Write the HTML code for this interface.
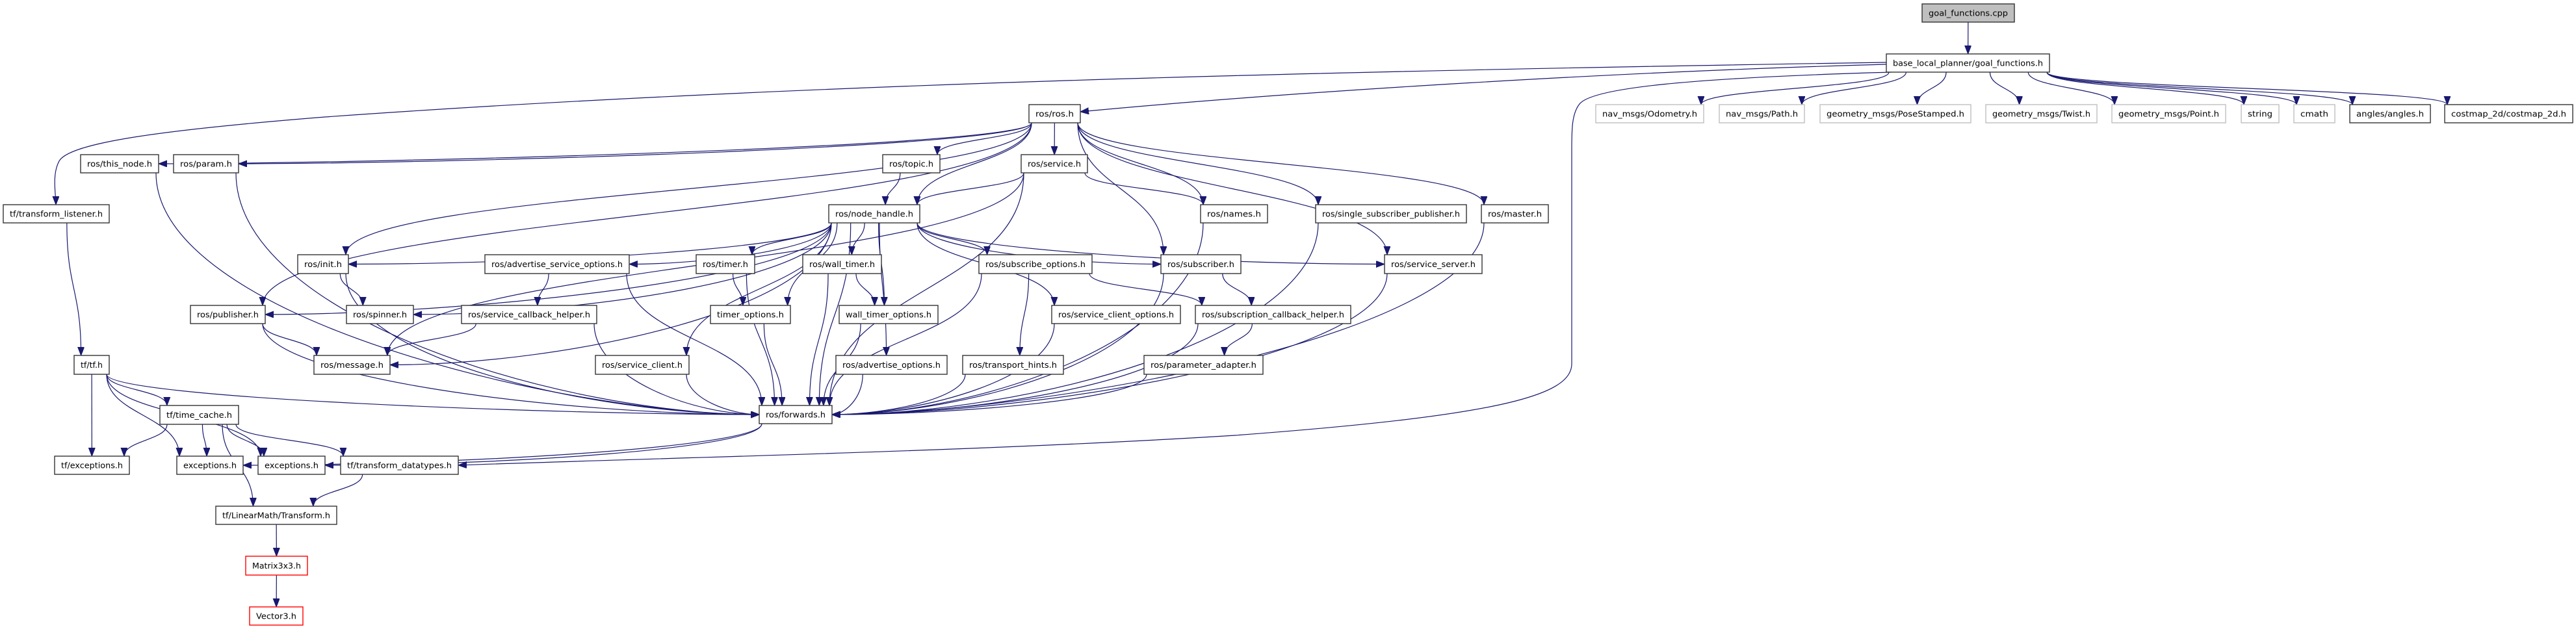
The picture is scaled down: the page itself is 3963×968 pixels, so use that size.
<!DOCTYPE html>
<html><head><meta charset="utf-8"><style>
html,body{margin:0;padding:0;background:#fff;}
svg{display:block;}
text{font-family:"DejaVu Sans","Liberation Sans",sans-serif;font-size:12.5px;fill:#000;}
</style></head><body>
<svg id="g" xmlns="http://www.w3.org/2000/svg" width="3963" height="968" viewBox="0 0 3963 968">
<defs><marker id="ah" markerUnits="userSpaceOnUse" markerWidth="14" markerHeight="11" refX="13" refY="5" orient="auto"><path d="M0,0 L13,5 L0,10 z" fill="#191970" stroke="#191970"/></marker></defs>
<g id="edges" fill="none" stroke="#191970" stroke-width="1.2"></g>
<g id="nodes"></g>
</svg>
<div id="src" style="display:none">
<span data-n="cpp,2957,3099,6,34,g">goal_functions.cpp</span>
<span data-n="blp,2902,3153,83,111,b">base_local_planner/goal_functions.h</span>
<span data-n="ros,1583,1662,161,189,b">ros/ros.h</span>
<span data-n="odom,2455,2621,161,189,l">nav_msgs/Odometry.h</span>
<span data-n="path,2645,2776,161,189,l">nav_msgs/Path.h</span>
<span data-n="pose,2800,3032,161,189,l">geometry_msgs/PoseStamped.h</span>
<span data-n="twist,3055,3226,161,189,l">geometry_msgs/Twist.h</span>
<span data-n="point,3249,3424,161,189,l">geometry_msgs/Point.h</span>
<span data-n="string,3448,3506,161,189,l">string</span>
<span data-n="cmath,3529,3592,161,189,l">cmath</span>
<span data-n="angles,3615,3739,161,189,b">angles/angles.h</span>
<span data-n="costmap,3761,3958,161,189,b">costmap_2d/costmap_2d.h</span>
<span data-n="thisnode,124,244,238,266,b">ros/this_node.h</span>
<span data-n="param,267,367,238,266,b">ros/param.h</span>
<span data-n="topic,1358,1446,238,266,b">ros/topic.h</span>
<span data-n="service,1571,1673,238,266,b">ros/service.h</span>
<span data-n="tl,5,168,315,343,b">tf/transform_listener.h</span>
<span data-n="nh,1275,1415,315,343,b">ros/node_handle.h</span>
<span data-n="names,1847,1950,315,343,b">ros/names.h</span>
<span data-n="ssp,2024,2256,315,343,b">ros/single_subscriber_publisher.h</span>
<span data-n="master,2279,2382,315,343,b">ros/master.h</span>
<span data-n="init,458,536,392,421,b">ros/init.h</span>
<span data-n="aso,746,968,392,421,b">ros/advertise_service_options.h</span>
<span data-n="timer,1071,1161,392,421,b">ros/timer.h</span>
<span data-n="wt,1235,1356,392,421,b">ros/wall_timer.h</span>
<span data-n="so,1506,1680,392,421,b">ros/subscribe_options.h</span>
<span data-n="sub,1786,1909,392,421,b">ros/subscriber.h</span>
<span data-n="ss,2130,2280,392,421,b">ros/service_server.h</span>
<span data-n="pub,293,408,470,498,b">ros/publisher.h</span>
<span data-n="spin,533,636,470,498,b">ros/spinner.h</span>
<span data-n="sch,710,918,470,498,b">ros/service_callback_helper.h</span>
<span data-n="to,1093,1216,470,498,b">timer_options.h</span>
<span data-n="wto,1291,1443,470,498,b">wall_timer_options.h</span>
<span data-n="sco,1618,1816,470,498,b">ros/service_client_options.h</span>
<span data-n="subch,1839,2078,470,498,b">ros/subscription_callback_helper.h</span>
<span data-n="tf,114,168,547,576,b">tf/tf.h</span>
<span data-n="msg,483,600,547,576,b">ros/message.h</span>
<span data-n="sc,916,1060,547,576,b">ros/service_client.h</span>
<span data-n="ao,1286,1457,547,576,b">ros/advertise_options.h</span>
<span data-n="th,1481,1636,547,576,b">ros/transport_hints.h</span>
<span data-n="pa,1760,1943,547,576,b">ros/parameter_adapter.h</span>
<span data-n="tc,246,367,624,653,b">tf/time_cache.h</span>
<span data-n="fwd,1168,1280,624,652,b">ros/forwards.h</span>
<span data-n="tfex,84,199,702,730,b">tf/exceptions.h</span>
<span data-n="ex1,272,374,702,730,b">exceptions.h</span>
<span data-n="ex2,397,500,702,730,b">exceptions.h</span>
<span data-n="td,524,705,702,730,b">tf/transform_datatypes.h</span>
<span data-n="lm,332,518,779,807,b">tf/LinearMath/Transform.h</span>
<span data-n="m33,378,473,856,885,r">Matrix3x3.h</span>
<span data-n="v3,384,466,934,962,r">Vector3.h</span>
</div>
<script>
var NS="http://www.w3.org/2000/svg",N={},ng=document.getElementById('nodes'),eg=document.getElementById('edges');
document.querySelectorAll('#src span').forEach(function(s){
 var p=s.getAttribute('data-n').split(','),id=p[0],x1=+p[1],x2=+p[2],y1=+p[3],y2=+p[4],t=p[5];
 N[id]={x1:x1,x2:x2,y1:y1,y2:y2,cx:(x1+x2)/2,cy:(y1+y2)/2,w:x2-x1};
 var r=document.createElementNS(NS,'rect');
 r.setAttribute('x',x1);r.setAttribute('y',y1);r.setAttribute('width',x2-x1);r.setAttribute('height',y2-y1);
 r.setAttribute('fill',t=='g'?'#bfbfbf':'#fff');
 r.setAttribute('stroke',t=='l'?'#bfbfbf':(t=='r'?'#ff0000':'#333'));
 r.setAttribute('stroke-width',1.4);ng.appendChild(r);
 var tx=document.createElementNS(NS,'text');
 tx.setAttribute('x',(x1+x2)/2);tx.setAttribute('y',(y1+y2)/2+4.5);tx.setAttribute('text-anchor','middle');
 tx.setAttribute('textLength',Math.max(10,x2-x1-20));tx.setAttribute('lengthAdjust','spacingAndGlyphs');
 tx.textContent=s.textContent;ng.appendChild(tx);
});
var E="cpp>blp blp>odom blp>path blp>pose blp>twist blp>point blp>string blp>cmath blp>angles blp>costmap "+
"ros>thisnode ros>param ros>topic ros>service ros>nh ros>names ros>sub ros>ssp ros>ss ros>master ros>pub ros>init "+
"topic>nh service>nh service>names service>msg service>fwd "+
"nh>fwd nh>pub nh>sub nh>ss nh>sc nh>timer nh>wt nh>ao nh>aso nh>so nh>sco nh>to nh>wto nh>spin nh>init nh>msg "+
"thisnode>fwd param>fwd names>fwd init>fwd init>spin pub>msg pub>fwd sch>msg sch>fwd aso>sch aso>fwd timer>to timer>fwd wt>wto wt>fwd "+
"to>fwd wto>fwd ao>fwd sc>fwd so>th so>fwd so>subch th>fwd sco>fwd sub>subch sub>fwd subch>pa subch>fwd pa>fwd ss>fwd ssp>fwd master>fwd "+
"fwd>ex1 fwd>ex2 tl>tf tf>tfex tf>ex1 tf>tc tf>ex2 tf>fwd tc>tfex tc>ex1 tc>ex2 tc>td tc>lm td>lm lm>m33 m33>v3";
var SIDE={"nh>init":1,"nh>aso":1,"nh>ss":1,"nh>sub":1,"fwd>ex1":1,"fwd>ex2":1,"nh>pub":1,"nh>spin":1,"nh>msg":1,"ros>thisnode":1,"ros>param":1};
function cl(v,m){return Math.max(-m,Math.min(m,v));}
function add(d){var p=document.createElementNS(NS,'path');p.setAttribute('d',d);p.setAttribute('marker-end','url(#ah)');eg.appendChild(p);}
E.split(' ').forEach(function(e){
 var p=e.split('>'),A=N[p[0]],B=N[p[1]];if(!A||!B)return;
 var dx=B.cx-A.cx,dy=B.y1-A.y2,d;
 var side=SIDE[e]||(p[1]=='fwd'&&Math.abs(dx)>2*Math.abs(dy));
 var sx=A.cx+cl(dx*0.3,A.w/2-4),sy=A.y2;
 if(side){
  var ex=dx>0?B.x1:B.x2,ey=B.cy,k=dx>0?-1:1;
  if(B.cy<A.cy){sy=A.cy;sx=dx>0?A.x2:A.x1;}
  d="M"+sx+","+sy+" C"+sx+","+(sy+(ey-sy)*0.6)+" "+(ex+k*Math.min(300,Math.abs(ex-sx)*0.4))+","+ey+" "+ex+","+ey;
 } else {
  var ex=B.cx-cl(dx*0.3,B.w/2-4),ey=B.y1,h=(ey-sy)*0.5;
  d="M"+sx+","+sy+" C"+sx+","+(sy+h)+" "+ex+","+(ey-h)+" "+ex+","+ey;
 }
 add(d);
});
add("M2902,99 C2500,110 2000,140 1662,172");
add("M2902,96 C2000,110 1200,130 500,180 C250,200 100,220 90,250 C80,270 86,300 86,315");
add("M2910,111 C2600,120 2450,135 2430,160 C2418,175 2418,200 2418,230 L2418,560 C2418,610 2300,640 1900,670 C1500,695 1000,705 705,716");
</script>
</body></html>
